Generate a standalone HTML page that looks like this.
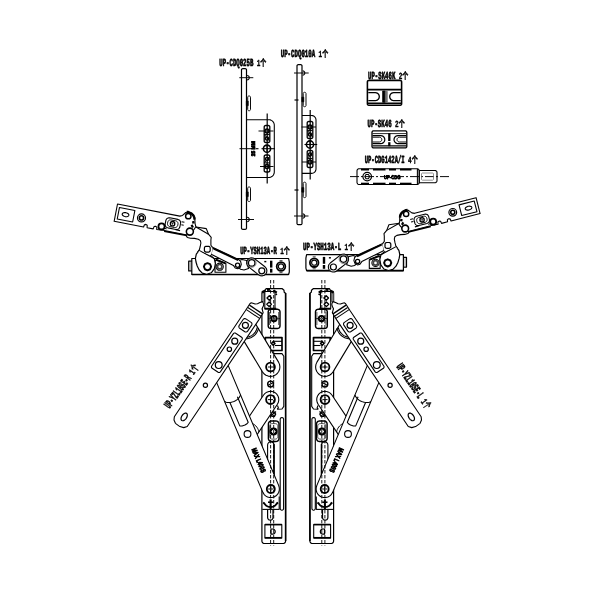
<!DOCTYPE html>
<html><head><meta charset="utf-8"><title>UP hardware set</title>
<style>html,body{margin:0;padding:0;background:#fff}svg{display:block}text{fill:#000;text-rendering:geometricPrecision}</style></head>
<body><svg width="600" height="600" viewBox="0 0 600 600" stroke-linejoin="round" style="will-change:transform">
<rect width="600" height="600" fill="#fff"/>
<path d="M245.30 68.70 L245.61 68.74 L245.90 68.86 L246.15 69.05 L246.34 69.30 L246.46 69.59 L246.50 69.90 L246.50 228.10 L246.46 228.41 L246.34 228.70 L246.15 228.95 L245.90 229.14 L245.61 229.26 L245.30 229.30 L242.70 229.30 L242.39 229.26 L242.10 229.14 L241.85 228.95 L241.66 228.70 L241.54 228.41 L241.50 228.10 L241.50 69.90 L241.54 69.59 L241.66 69.30 L241.85 69.05 L242.10 68.86 L242.39 68.74 L242.70 68.70 Z" fill="#fff" stroke="#000" stroke-width="1.20"/>
<path d="M246.50 119.70 L268.80 119.70 L269.87 119.81 L270.90 120.12 L271.86 120.63 L272.69 121.31 L273.37 122.14 L273.88 123.10 L274.19 124.13 L274.30 125.20 L274.30 172.00 L274.19 173.07 L273.88 174.10 L273.37 175.06 L272.69 175.89 L271.86 176.57 L270.90 177.08 L269.87 177.39 L268.80 177.50 L246.50 177.50" fill="none" stroke="#000" stroke-width="1.08"/>
<path d="M239.30 77.70 L253.30 77.70" fill="none" stroke="#000" stroke-width="0.96"/>
<path d="M247.10 75.50 L247.94 75.67 L248.66 76.14 L249.13 76.86 L249.30 77.70 L249.13 78.54 L248.66 79.26 L247.94 79.73 L247.10 79.90" fill="none" stroke="#000" stroke-width="1.08"/>
<path d="M238.00 219.50 L254.00 219.50" fill="none" stroke="#000" stroke-width="0.96"/>
<path d="M247.10 217.30 L247.94 217.47 L248.66 217.94 L249.13 218.66 L249.30 219.50 L249.13 220.34 L248.66 221.06 L247.94 221.53 L247.10 221.70" fill="none" stroke="#000" stroke-width="1.08"/>
<path d="M249.30 96.00 L249.61 96.04 L249.90 96.16 L250.15 96.35 L250.34 96.60 L250.46 96.89 L250.50 97.20 L250.50 109.50 L250.46 109.81 L250.34 110.10 L250.15 110.35 L249.90 110.54 L249.61 110.66 L249.30 110.70 L248.90 110.70 L248.59 110.66 L248.30 110.54 L248.05 110.35 L247.86 110.10 L247.74 109.81 L247.70 109.50 L247.70 97.20 L247.74 96.89 L247.86 96.60 L248.05 96.35 L248.30 96.16 L248.59 96.04 L248.90 96.00 Z" fill="none" stroke="#000" stroke-width="0.96"/>
<path d="M246.30 101.05 L248.30 101.05 L248.30 105.65 L246.30 105.65 Z" fill="#000" stroke="#000" stroke-width="0.60"/>
<path d="M249.30 187.00 L249.61 187.04 L249.90 187.16 L250.15 187.35 L250.34 187.60 L250.46 187.89 L250.50 188.20 L250.50 200.30 L250.46 200.61 L250.34 200.90 L250.15 201.15 L249.90 201.34 L249.61 201.46 L249.30 201.50 L248.90 201.50 L248.59 201.46 L248.30 201.34 L248.05 201.15 L247.86 200.90 L247.74 200.61 L247.70 200.30 L247.70 188.20 L247.74 187.89 L247.86 187.60 L248.05 187.35 L248.30 187.16 L248.59 187.04 L248.90 187.00 Z" fill="none" stroke="#000" stroke-width="0.96"/>
<path d="M246.30 191.95 L248.30 191.95 L248.30 196.55 L246.30 196.55 Z" fill="#000" stroke="#000" stroke-width="0.60"/>
<path d="M267.20 113.50 L267.20 183.50" fill="none" stroke="#000" stroke-width="1.20"/>
<circle cx="267.00" cy="148.70" r="3.60" fill="none" stroke="#000" stroke-width="1.56"/>
<path d="M261.50 148.70 L275.00 148.70" fill="none" stroke="#000" stroke-width="1.08"/>
<path d="M267.00 145.70 L267.00 151.70" fill="none" stroke="#000" stroke-width="1.08"/>
<path d="M268.30 125.50 L268.69 125.55 L269.05 125.70 L269.36 125.94 L269.60 126.25 L269.75 126.61 L269.80 127.00 L269.80 141.00 L269.75 141.39 L269.60 141.75 L269.36 142.06 L269.05 142.30 L268.69 142.45 L268.30 142.50 L265.70 142.50 L265.31 142.45 L264.95 142.30 L264.64 142.06 L264.40 141.75 L264.25 141.39 L264.20 141.00 L264.20 127.00 L264.25 126.61 L264.40 126.25 L264.64 125.94 L264.95 125.70 L265.31 125.55 L265.70 125.50 Z" fill="none" stroke="#000" stroke-width="1.32"/>
<circle cx="267.00" cy="131.00" r="2.00" fill="none" stroke="#000" stroke-width="1.44"/>
<circle cx="267.00" cy="138.50" r="1.60" fill="none" stroke="#000" stroke-width="1.32"/>
<path d="M264.50 134.60 L269.50 134.60" fill="none" stroke="#000" stroke-width="1.08"/>
<path d="M264.50 134.60 L269.50 141.00" fill="none" stroke="#000" stroke-width="0.96"/>
<path d="M268.30 155.00 L268.69 155.05 L269.05 155.20 L269.36 155.44 L269.60 155.75 L269.75 156.11 L269.80 156.50 L269.80 170.50 L269.75 170.89 L269.60 171.25 L269.36 171.56 L269.05 171.80 L268.69 171.95 L268.30 172.00 L265.70 172.00 L265.31 171.95 L264.95 171.80 L264.64 171.56 L264.40 171.25 L264.25 170.89 L264.20 170.50 L264.20 156.50 L264.25 156.11 L264.40 155.75 L264.64 155.44 L264.95 155.20 L265.31 155.05 L265.70 155.00 Z" fill="none" stroke="#000" stroke-width="1.32"/>
<circle cx="267.00" cy="166.50" r="2.00" fill="none" stroke="#000" stroke-width="1.44"/>
<circle cx="267.00" cy="159.00" r="1.60" fill="none" stroke="#000" stroke-width="1.32"/>
<path d="M264.50 162.90 L269.50 162.90" fill="none" stroke="#000" stroke-width="1.08"/>
<path d="M264.50 162.90 L269.50 156.50" fill="none" stroke="#000" stroke-width="0.96"/>
<path d="M258.50 131.00 L273.50 131.00" fill="none" stroke="#000" stroke-width="0.96"/>
<path d="M260.00 166.50 L273.50 166.50" fill="none" stroke="#000" stroke-width="0.96"/>
<path d="M239.50 148.70 L251.00 148.70" fill="none" stroke="#000" stroke-width="0.96"/>
<path d="M255.50 148.70 L258.50 148.70" fill="none" stroke="#000" stroke-width="1.08"/>
<text x="0" y="0" font-size="5.2px" font-family="Liberation Sans, sans-serif" font-weight="bold" stroke="#000" stroke-width="0.85" textLength="15" lengthAdjust="spacingAndGlyphs" transform="translate(254.7 156.2) rotate(-90)">25 MM</text>
<path d="M300.80 64.70 L301.11 64.74 L301.40 64.86 L301.65 65.05 L301.84 65.30 L301.96 65.59 L302.00 65.90 L302.00 223.40 L301.96 223.71 L301.84 224.00 L301.65 224.25 L301.40 224.44 L301.11 224.56 L300.80 224.60 L298.20 224.60 L297.89 224.56 L297.60 224.44 L297.35 224.25 L297.16 224.00 L297.04 223.71 L297.00 223.40 L297.00 65.90 L297.04 65.59 L297.16 65.30 L297.35 65.05 L297.60 64.86 L297.89 64.74 L298.20 64.70 Z" fill="#fff" stroke="#000" stroke-width="1.20"/>
<path d="M302.00 115.50 L311.50 115.50 L312.38 115.59 L313.22 115.84 L314.00 116.26 L314.68 116.82 L315.24 117.50 L315.66 118.28 L315.91 119.12 L316.00 120.00 L316.00 168.90 L315.91 169.78 L315.66 170.62 L315.24 171.40 L314.68 172.08 L314.00 172.64 L313.22 173.06 L312.38 173.31 L311.50 173.40 L302.00 173.40" fill="none" stroke="#000" stroke-width="1.08"/>
<path d="M294.00 73.00 L308.70 73.00" fill="none" stroke="#000" stroke-width="0.96"/>
<path d="M302.60 70.80 L303.44 70.97 L304.16 71.44 L304.63 72.16 L304.80 73.00 L304.63 73.84 L304.16 74.56 L303.44 75.03 L302.60 75.20" fill="none" stroke="#000" stroke-width="1.08"/>
<path d="M294.00 216.00 L308.50 216.00" fill="none" stroke="#000" stroke-width="0.96"/>
<path d="M302.60 213.80 L303.44 213.97 L304.16 214.44 L304.63 215.16 L304.80 216.00 L304.63 216.84 L304.16 217.56 L303.44 218.03 L302.60 218.20" fill="none" stroke="#000" stroke-width="1.08"/>
<path d="M304.80 92.30 L305.11 92.34 L305.40 92.46 L305.65 92.65 L305.84 92.90 L305.96 93.19 L306.00 93.50 L306.00 105.50 L305.96 105.81 L305.84 106.10 L305.65 106.35 L305.40 106.54 L305.11 106.66 L304.80 106.70 L304.40 106.70 L304.09 106.66 L303.80 106.54 L303.55 106.35 L303.36 106.10 L303.24 105.81 L303.20 105.50 L303.20 93.50 L303.24 93.19 L303.36 92.90 L303.55 92.65 L303.80 92.46 L304.09 92.34 L304.40 92.30 Z" fill="none" stroke="#000" stroke-width="0.96"/>
<path d="M301.80 97.20 L303.80 97.20 L303.80 101.80 L301.80 101.80 Z" fill="#000" stroke="#000" stroke-width="0.60"/>
<path d="M304.80 182.20 L305.11 182.24 L305.40 182.36 L305.65 182.55 L305.84 182.80 L305.96 183.09 L306.00 183.40 L306.00 196.40 L305.96 196.71 L305.84 197.00 L305.65 197.25 L305.40 197.44 L305.11 197.56 L304.80 197.60 L304.40 197.60 L304.09 197.56 L303.80 197.44 L303.55 197.25 L303.36 197.00 L303.24 196.71 L303.20 196.40 L303.20 183.40 L303.24 183.09 L303.36 182.80 L303.55 182.55 L303.80 182.36 L304.09 182.24 L304.40 182.20 Z" fill="none" stroke="#000" stroke-width="0.96"/>
<path d="M301.80 187.60 L303.80 187.60 L303.80 192.20 L301.80 192.20 Z" fill="#000" stroke="#000" stroke-width="0.60"/>
<path d="M294.50 100.00 L298.50 100.00" fill="none" stroke="#000" stroke-width="1.20"/>
<path d="M294.50 190.00 L298.50 190.00" fill="none" stroke="#000" stroke-width="1.20"/>
<path d="M310.20 110.00 L310.20 179.50" fill="none" stroke="#000" stroke-width="1.20"/>
<circle cx="310.00" cy="144.50" r="3.60" fill="none" stroke="#000" stroke-width="1.56"/>
<path d="M304.50 144.50 L317.20 144.50" fill="none" stroke="#000" stroke-width="1.08"/>
<path d="M310.00 141.50 L310.00 147.50" fill="none" stroke="#000" stroke-width="1.08"/>
<path d="M311.30 121.50 L311.69 121.55 L312.05 121.70 L312.36 121.94 L312.60 122.25 L312.75 122.61 L312.80 123.00 L312.80 137.00 L312.75 137.39 L312.60 137.75 L312.36 138.06 L312.05 138.30 L311.69 138.45 L311.30 138.50 L308.70 138.50 L308.31 138.45 L307.95 138.30 L307.64 138.06 L307.40 137.75 L307.25 137.39 L307.20 137.00 L307.20 123.00 L307.25 122.61 L307.40 122.25 L307.64 121.94 L307.95 121.70 L308.31 121.55 L308.70 121.50 Z" fill="none" stroke="#000" stroke-width="1.32"/>
<circle cx="310.00" cy="127.00" r="2.00" fill="none" stroke="#000" stroke-width="1.44"/>
<circle cx="310.00" cy="134.50" r="1.60" fill="none" stroke="#000" stroke-width="1.32"/>
<path d="M307.50 130.60 L312.50 130.60" fill="none" stroke="#000" stroke-width="1.08"/>
<path d="M307.50 130.60 L312.50 137.00" fill="none" stroke="#000" stroke-width="0.96"/>
<path d="M311.30 150.50 L311.69 150.55 L312.05 150.70 L312.36 150.94 L312.60 151.25 L312.75 151.61 L312.80 152.00 L312.80 166.00 L312.75 166.39 L312.60 166.75 L312.36 167.06 L312.05 167.30 L311.69 167.45 L311.30 167.50 L308.70 167.50 L308.31 167.45 L307.95 167.30 L307.64 167.06 L307.40 166.75 L307.25 166.39 L307.20 166.00 L307.20 152.00 L307.25 151.61 L307.40 151.25 L307.64 150.94 L307.95 150.70 L308.31 150.55 L308.70 150.50 Z" fill="none" stroke="#000" stroke-width="1.32"/>
<circle cx="310.00" cy="162.00" r="2.00" fill="none" stroke="#000" stroke-width="1.44"/>
<circle cx="310.00" cy="154.50" r="1.60" fill="none" stroke="#000" stroke-width="1.32"/>
<path d="M307.50 158.40 L312.50 158.40" fill="none" stroke="#000" stroke-width="1.08"/>
<path d="M307.50 158.40 L312.50 152.00" fill="none" stroke="#000" stroke-width="0.96"/>
<path d="M301.50 127.00 L316.00 127.00" fill="none" stroke="#000" stroke-width="0.96"/>
<path d="M302.00 162.00 L316.00 162.00" fill="none" stroke="#000" stroke-width="0.96"/>
<text y="66.20" font-size="10.80px" font-family="Liberation Mono, Noto Sans CJK SC, monospace" font-weight="bold" stroke="#000" stroke-width="0.72"><tspan x="219.30" textLength="34.00" lengthAdjust="spacingAndGlyphs">UP-CDQ025B</tspan> <tspan x="256.70" dy="-0.1" stroke-width="0.4" font-size="9.30px" textLength="9.60" lengthAdjust="spacingAndGlyphs">1个</tspan></text>
<text y="56.60" font-size="10.80px" font-family="Liberation Mono, Noto Sans CJK SC, monospace" font-weight="bold" stroke="#000" stroke-width="0.72"><tspan x="280.70" textLength="34.50" lengthAdjust="spacingAndGlyphs">UP-CDQ010A</tspan> <tspan x="318.60" dy="-0.1" stroke-width="0.4" font-size="9.30px" textLength="9.60" lengthAdjust="spacingAndGlyphs">1个</tspan></text>
<text y="78.80" font-size="10.80px" font-family="Liberation Mono, Noto Sans CJK SC, monospace" font-weight="bold" stroke="#000" stroke-width="0.72"><tspan x="368.00" textLength="27.30" lengthAdjust="spacingAndGlyphs">UP-SK46K</tspan> <tspan x="398.70" dy="-0.1" stroke-width="0.4" font-size="9.30px" textLength="9.60" lengthAdjust="spacingAndGlyphs">2个</tspan></text>
<text y="127.20" font-size="10.80px" font-family="Liberation Mono, Noto Sans CJK SC, monospace" font-weight="bold" stroke="#000" stroke-width="0.72"><tspan x="367.50" textLength="24.20" lengthAdjust="spacingAndGlyphs">UP-SK46</tspan> <tspan x="395.10" dy="-0.1" stroke-width="0.4" font-size="9.30px" textLength="9.60" lengthAdjust="spacingAndGlyphs">2个</tspan></text>
<text y="163.20" font-size="10.80px" font-family="Liberation Mono, Noto Sans CJK SC, monospace" font-weight="bold" stroke="#000" stroke-width="0.72"><tspan x="364.70" textLength="40.00" lengthAdjust="spacingAndGlyphs">UP-CDG142A/I</tspan> <tspan x="408.10" dy="-0.1" stroke-width="0.4" font-size="9.30px" textLength="9.60" lengthAdjust="spacingAndGlyphs">4个</tspan></text>
<text y="253.60" font-size="10.80px" font-family="Liberation Mono, Noto Sans CJK SC, monospace" font-weight="bold" stroke="#000" stroke-width="0.72"><tspan x="240.20" textLength="36.60" lengthAdjust="spacingAndGlyphs">UP-YSH13A-R</tspan> <tspan x="280.20" dy="-0.1" stroke-width="0.4" font-size="9.30px" textLength="9.60" lengthAdjust="spacingAndGlyphs">1个</tspan></text>
<text y="250.40" font-size="10.80px" font-family="Liberation Mono, Noto Sans CJK SC, monospace" font-weight="bold" stroke="#000" stroke-width="0.72"><tspan x="303.00" textLength="38.20" lengthAdjust="spacingAndGlyphs">UP-YSH13A-L</tspan> <tspan x="344.60" dy="-0.1" stroke-width="0.4" font-size="9.30px" textLength="9.60" lengthAdjust="spacingAndGlyphs">1个</tspan></text>
<path d="M400.10 80.40 L400.49 80.45 L400.85 80.60 L401.16 80.84 L401.40 81.15 L401.55 81.51 L401.60 81.90 L401.60 103.70 L401.55 104.09 L401.40 104.45 L401.16 104.76 L400.85 105.00 L400.49 105.15 L400.10 105.20 L368.90 105.20 L368.51 105.15 L368.15 105.00 L367.84 104.76 L367.60 104.45 L367.45 104.09 L367.40 103.70 L367.40 81.90 L367.45 81.51 L367.60 81.15 L367.84 80.84 L368.15 80.60 L368.51 80.45 L368.90 80.40 Z" fill="none" stroke="#000" stroke-width="1.56"/>
<path d="M367.40 89.60 L401.60 89.60" fill="none" stroke="#000" stroke-width="1.80"/>
<path d="M368.00 103.20 L401.00 103.20" fill="none" stroke="#000" stroke-width="1.44"/>
<path d="M368.30 92.60 L375.30 92.60 L375.30 92.60 L376.54 92.80 L377.65 93.36 L378.54 94.25 L379.10 95.36 L379.30 96.60 L379.10 97.84 L378.54 98.95 L377.65 99.84 L376.54 100.40 L375.30 100.60 L368.30 100.60" fill="none" stroke="#000" stroke-width="1.32"/>
<path d="M400.70 92.60 L393.70 92.60 L393.70 92.60 L392.46 92.80 L391.35 93.36 L390.46 94.25 L389.90 95.36 L389.70 96.60 L389.90 97.84 L390.46 98.95 L391.35 99.84 L392.46 100.40 L393.70 100.60 L400.70 100.60" fill="none" stroke="#000" stroke-width="1.32"/>
<path d="M382.60 91.00 L385.20 91.00 L385.20 102.30 L382.60 102.30 Z" fill="#000" stroke="#000" stroke-width="0.72"/>
<path d="M385.20 91.30 L387.30 91.30 L387.30 102.00 L385.20 102.00 Z" fill="#777" stroke="#555" stroke-width="0.60"/>
<path d="M405.30 130.90 L405.69 130.95 L406.05 131.10 L406.36 131.34 L406.60 131.65 L406.75 132.01 L406.80 132.40 L406.80 146.40 L406.75 146.79 L406.60 147.15 L406.36 147.46 L406.05 147.70 L405.69 147.85 L405.30 147.90 L373.50 147.90 L373.11 147.85 L372.75 147.70 L372.44 147.46 L372.20 147.15 L372.05 146.79 L372.00 146.40 L372.00 132.40 L372.05 132.01 L372.20 131.65 L372.44 131.34 L372.75 131.10 L373.11 130.95 L373.50 130.90 Z" fill="none" stroke="#000" stroke-width="1.32"/>
<path d="M372.50 133.60 L406.30 133.60" fill="none" stroke="#000" stroke-width="0.84"/>
<path d="M372.50 145.90 L406.30 145.90" fill="none" stroke="#000" stroke-width="1.08"/>
<path d="M372.50 135.60 L380.80 135.60 L380.80 135.60 L382.04 135.80 L383.15 136.36 L384.04 137.25 L384.60 138.36 L384.80 139.60 L384.60 140.84 L384.04 141.95 L383.15 142.84 L382.04 143.40 L380.80 143.60 L372.50 143.60" fill="none" stroke="#000" stroke-width="1.20"/>
<path d="M372.50 137.20 L379.40 137.20 L379.40 137.20 L380.14 137.32 L380.81 137.66 L381.34 138.19 L381.68 138.86 L381.80 139.60 L381.68 140.34 L381.34 141.01 L380.81 141.54 L380.14 141.88 L379.40 142.00 L372.50 142.00" fill="none" stroke="#000" stroke-width="0.96"/>
<path d="M406.30 135.60 L398.00 135.60 L398.00 135.60 L396.76 135.80 L395.65 136.36 L394.76 137.25 L394.20 138.36 L394.00 139.60 L394.20 140.84 L394.76 141.95 L395.65 142.84 L396.76 143.40 L398.00 143.60 L406.30 143.60" fill="none" stroke="#000" stroke-width="1.20"/>
<path d="M406.30 137.20 L399.40 137.20 L399.40 137.20 L398.66 137.32 L397.99 137.66 L397.46 138.19 L397.12 138.86 L397.00 139.60 L397.12 140.34 L397.46 141.01 L397.99 141.54 L398.66 141.88 L399.40 142.00 L406.30 142.00" fill="none" stroke="#000" stroke-width="0.96"/>
<path d="M389.30 133.20 L389.30 141.00" fill="none" stroke="#000" stroke-width="2.28"/>
<path d="M389.30 142.20 L389.30 146.20" fill="none" stroke="#000" stroke-width="2.28"/>
<path d="M350.00 176.60 L449.50 176.60" fill="none" stroke="#000" stroke-width="0.96" stroke-dasharray="9 2 2 2"/>
<path d="M417.00 168.70 L417.57 168.77 L418.10 168.99 L418.56 169.34 L418.91 169.80 L419.13 170.33 L419.20 170.90 L419.20 182.30 L419.13 182.87 L418.91 183.40 L418.56 183.86 L418.10 184.21 L417.57 184.43 L417.00 184.50 L359.20 184.50 L358.63 184.43 L358.10 184.21 L357.64 183.86 L357.29 183.40 L357.07 182.87 L357.00 182.30 L357.00 170.90 L357.07 170.33 L357.29 169.80 L357.64 169.34 L358.10 168.99 L358.63 168.77 L359.20 168.70 Z" fill="none" stroke="#000" stroke-width="1.08"/>
<path d="M361.00 169.60 L369.00 169.60" fill="none" stroke="#000" stroke-width="1.80"/>
<path d="M361.00 183.60 L369.00 183.60" fill="none" stroke="#000" stroke-width="1.80"/>
<path d="M373.00 169.60 L385.50 169.60" fill="none" stroke="#000" stroke-width="1.80"/>
<path d="M373.00 183.60 L385.50 183.60" fill="none" stroke="#000" stroke-width="1.80"/>
<path d="M389.00 169.60 L396.00 169.60" fill="none" stroke="#000" stroke-width="1.80"/>
<path d="M389.00 183.60 L396.00 183.60" fill="none" stroke="#000" stroke-width="1.80"/>
<path d="M400.00 169.60 L411.50 169.60" fill="none" stroke="#000" stroke-width="1.80"/>
<path d="M400.00 183.60 L411.50 183.60" fill="none" stroke="#000" stroke-width="1.80"/>
<path d="M419.20 170.50 L435.00 170.50 L435.62 170.60 L436.18 170.88 L436.62 171.32 L436.90 171.88 L437.00 172.50 L437.00 180.70 L436.90 181.32 L436.62 181.88 L436.18 182.32 L435.62 182.60 L435.00 182.70 L419.20 182.70" fill="none" stroke="#000" stroke-width="1.08"/>
<path d="M432.50 173.00 L432.76 173.03 L433.00 173.13 L433.21 173.29 L433.37 173.50 L433.47 173.74 L433.50 174.00 L433.50 179.20 L433.47 179.46 L433.37 179.70 L433.21 179.91 L433.00 180.07 L432.76 180.17 L432.50 180.20 L422.50 180.20 L422.24 180.17 L422.00 180.07 L421.79 179.91 L421.63 179.70 L421.53 179.46 L421.50 179.20 L421.50 174.00 L421.53 173.74 L421.63 173.50 L421.79 173.29 L422.00 173.13 L422.24 173.03 L422.50 173.00 Z" fill="none" stroke="#666" stroke-width="0.72"/>
<path d="M417.40 169.00 L417.40 184.20" fill="none" stroke="#000" stroke-width="1.08"/>
<path d="M419.30 170.00 L419.30 183.20" fill="none" stroke="#000" stroke-width="1.08"/>
<circle cx="367.20" cy="176.60" r="4.30" fill="none" stroke="#000" stroke-width="1.20"/>
<path d="M369.60 176.60 L368.40 178.68 L366.00 178.68 L364.80 176.60 L366.00 174.52 L368.40 174.52 L369.60 176.60 Z" fill="none" stroke="#000" stroke-width="1.08"/>
<text x="384" y="179.0" font-size="5.4px" font-family="Liberation Sans, sans-serif" font-weight="bold" stroke="#000" stroke-width="0.8" textLength="16.5" lengthAdjust="spacingAndGlyphs">UP-CDG</text>
<path d="M191.80 258.50 L288.60 258.50 L289.30 262.00 L289.30 272.00 L288.60 274.50 L191.80 274.50 Z" fill="#fff" stroke="#000" stroke-width="1.20"/>
<path d="M191.80 274.50 L288.60 274.50" fill="none" stroke="#000" stroke-width="1.68"/>
<path d="M191.80 261.20 L188.70 261.20 L188.70 270.90 L191.80 270.90" fill="none" stroke="#000" stroke-width="1.20"/>
<path d="M190.20 262.00 L190.20 270.00" fill="none" stroke="#666" stroke-width="0.72"/>
<path d="M271.20 260.70 L271.20 267.60" fill="none" stroke="#000" stroke-width="2.40"/>
<path d="M271.20 268.80 L271.20 272.60" fill="none" stroke="#000" stroke-width="2.40"/>
<path d="M264.30 261.60 L266.30 261.60" fill="none" stroke="#000" stroke-width="1.44"/>
<circle cx="281.00" cy="266.50" r="4.30" fill="none" stroke="#000" stroke-width="1.80"/>
<circle cx="281.00" cy="266.50" r="2.60" fill="none" stroke="#000" stroke-width="1.08"/>
<path d="M279.50 260.60 L282.50 260.60" fill="none" stroke="#444" stroke-width="0.96"/>
<path d="M279.50 272.60 L282.50 272.60" fill="none" stroke="#444" stroke-width="0.96"/>
<path d="M215.00 272.20 L225.90 272.20 L225.90 263.60 L217.00 259.80 L215.00 261.00 Z" fill="#fff" stroke="#000" stroke-width="1.08"/>
<path d="M215.50 259.60 L225.50 263.40" fill="none" stroke="#000" stroke-width="1.80"/>
<circle cx="219.70" cy="266.70" r="3.60" fill="none" stroke="#000" stroke-width="1.08"/>
<circle cx="219.70" cy="266.70" r="2.20" fill="none" stroke="#444" stroke-width="1.68"/>
<path d="M239.40 260.30 L242.00 259.40 L246.80 260.60 L248.50 268.60 L244.00 270.00 L240.60 269.30 L238.60 267.50 Z" fill="#fff" stroke="#000" stroke-width="1.08"/>
<path d="M264.94 266.78 L266.24 268.29 L266.86 270.18 L266.71 272.17 L265.82 273.94 L264.31 275.24 L262.42 275.86 L260.43 275.71 L258.66 274.82 L248.56 266.92 L247.26 265.41 L246.64 263.52 L246.79 261.53 L247.68 259.76 L249.19 258.46 L251.08 257.84 L253.07 257.99 L254.84 258.88 Z" fill="#fff" stroke="#000" stroke-width="1.08"/>
<circle cx="251.70" cy="262.90" r="3.20" fill="none" stroke="#000" stroke-width="1.20"/>
<circle cx="251.70" cy="262.90" r="4.30" fill="none" stroke="#555" stroke-width="0.84"/>
<circle cx="261.80" cy="270.80" r="3.00" fill="none" stroke="#000" stroke-width="1.20"/>
<path d="M212.40 247.20 L238.50 259.40 L240.60 261.30 L241.30 264.40 L240.30 267.20 L237.80 268.70 L235.20 268.00 L233.40 265.40 L211.20 254.20 Z" fill="#fff" stroke="#000" stroke-width="1.08"/>
<path d="M213.60 248.60 L238.20 260.20" fill="none" stroke="#000" stroke-width="1.80"/>
<circle cx="237.60" cy="265.20" r="2.10" fill="none" stroke="#000" stroke-width="1.32"/>
<path d="M199.20 250.40 L196.30 254.20 L195.40 258.30 L196.00 262.00 L197.20 266.00 L199.20 270.00 L202.30 273.20 L206.70 274.30 L211.30 272.80 L214.40 268.60 L215.40 263.50 L214.30 258.60 L210.50 255.40 Z" fill="#fff" stroke="#000" stroke-width="1.20"/>
<path d="M211.10 266.70 L210.05 269.25 L207.50 270.30 L204.95 269.25 L203.90 266.70 L204.95 264.15 L207.50 263.10 L210.05 264.15 L211.10 266.70 Z" fill="none" stroke="#000" stroke-width="1.92"/>
<path d="M185.50 234.80 L187.30 237.40 L190.50 238.20 L194.50 238.40 L198.30 239.20 L200.40 240.60 L200.90 243.00 L200.20 246.50 L199.40 249.60 L197.50 252.30 L203.00 252.60 L210.00 255.50 L211.60 253.40 L212.60 247.60 L210.90 245.20 L210.90 240.00 L211.20 237.40 L208.50 234.20 L196.00 227.00 L193.00 226.00 L188.00 229.00 Z" fill="#fff" stroke="none" stroke-width="1.08"/>
<path d="M185.50 234.80 L187.30 237.40 L190.50 238.20 L194.50 238.40 L198.30 239.20 L200.40 240.60 L200.90 243.00 L200.20 246.50 L199.40 249.60 L197.50 252.30" fill="none" stroke="#000" stroke-width="1.08"/>
<path d="M212.60 247.60 L210.90 245.20 L210.90 240.00 L211.20 237.40 L208.50 234.20 L196.00 227.00" fill="none" stroke="#000" stroke-width="1.08"/>
<path d="M196.00 227.00 L206.30 228.60 L208.50 234.20" fill="none" stroke="#000" stroke-width="1.08"/>
<path d="M199.20 250.40 L214.30 258.60" fill="none" stroke="#000" stroke-width="1.08"/>
<path d="M208.40 246.30 L208.87 246.36 L209.30 246.54 L209.67 246.83 L209.96 247.20 L210.14 247.63 L210.20 248.10 L210.20 250.30 L210.14 250.77 L209.96 251.20 L209.67 251.57 L209.30 251.86 L208.87 252.04 L208.40 252.10 L206.20 252.10 L205.73 252.04 L205.30 251.86 L204.93 251.57 L204.64 251.20 L204.46 250.77 L204.40 250.30 L204.40 248.10 L204.46 247.63 L204.64 247.20 L204.93 246.83 L205.30 246.54 L205.73 246.36 L206.20 246.30 Z" fill="#fff" stroke="#000" stroke-width="1.20"/>
<path d="M117.50 204.00 L179.83 216.12 L182.52 215.42 L185.83 212.49 L188.28 211.95 L191.59 213.31 L193.71 215.45 L194.65 217.47 L194.96 221.09 L195.03 223.35 L195.82 226.66 L194.03 229.57 L186.86 235.00 L164.28 230.62 L163.53 230.27 L160.85 229.95 L156.74 229.56 L156.81 227.13 L155.55 226.27 L154.06 226.59 L153.21 228.87 L147.12 227.69 L147.19 225.26 L145.93 224.40 L144.44 224.72 L143.59 227.00 L114.14 221.28 Z" fill="#fff" stroke="#000" stroke-width="1.08"/>
<path d="M164.15 231.30 L186.76 235.49" fill="none" stroke="#000" stroke-width="1.56"/>
<path d="M119.48 207.44 L134.89 210.44 L132.64 222.02 L117.23 219.02 Z" fill="none" stroke="#000" stroke-width="1.08"/>
<path d="M128.86 215.27 L128.58 215.85 L128.00 216.30 L127.17 216.60 L126.19 216.69 L125.14 216.59 L124.13 216.29 L123.25 215.83 L122.60 215.25 L122.23 214.62 L122.18 213.98 L122.46 213.40 L123.04 212.95 L123.87 212.66 L124.85 212.56 L125.90 212.66 L126.91 212.96 L127.79 213.42 L128.44 214.00 L128.81 214.64 L128.86 215.27 Z" fill="none" stroke="#000" stroke-width="1.08"/>
<circle cx="141.48" cy="217.93" r="4.00" fill="none" stroke="#000" stroke-width="1.20"/>
<circle cx="141.48" cy="217.93" r="2.10" fill="none" stroke="#000" stroke-width="1.56"/>
<circle cx="161.53" cy="226.41" r="3.10" fill="#fff" stroke="#000" stroke-width="1.80"/>
<path d="M177.87 219.40 L178.71 219.68 L179.45 220.17 L180.04 220.84 L180.44 221.63 L180.61 222.50 L180.56 223.39 L179.91 226.73 L179.63 227.57 L179.14 228.31 L178.47 228.90 L177.68 229.29 L176.81 229.47 L175.92 229.41 L167.87 227.85 L167.03 227.57 L166.29 227.08 L165.70 226.41 L165.31 225.62 L165.13 224.75 L165.19 223.86 L165.83 220.53 L166.12 219.68 L166.61 218.94 L167.27 218.36 L168.07 217.96 L168.94 217.78 L169.82 217.84 Z" fill="none" stroke="#000" stroke-width="1.08"/>
<path d="M175.76 220.83 L176.45 221.06 L177.06 221.46 L177.55 222.01 L177.87 222.66 L178.02 223.38 L177.97 224.11 L177.75 225.29 L177.51 225.98 L177.11 226.59 L176.56 227.07 L175.91 227.40 L175.19 227.55 L174.46 227.50 L169.75 226.58 L169.06 226.35 L168.45 225.95 L167.96 225.40 L167.64 224.75 L167.49 224.03 L167.54 223.30 L167.77 222.12 L168.00 221.43 L168.40 220.82 L168.95 220.34 L169.60 220.01 L170.32 219.87 L171.05 219.91 Z" fill="none" stroke="#000" stroke-width="0.96"/>
<circle cx="172.56" cy="223.67" r="2.20" fill="none" stroke="#000" stroke-width="1.32"/>
<circle cx="172.56" cy="223.67" r="0.50" fill="#000" stroke="#000" stroke-width="0.84"/>
<path d="M181.59 221.76 L184.44 222.31" fill="none" stroke="#000" stroke-width="1.08"/>
<path d="M181.31 224.76 L183.67 225.22" fill="none" stroke="#000" stroke-width="1.08"/>
<path d="M175.65 229.77 L180.07 230.63" fill="none" stroke="#000" stroke-width="1.08"/>
<path d="M163.72 228.26 L166.66 228.84" fill="none" stroke="#000" stroke-width="0.96"/>
<circle cx="188.29" cy="216.13" r="2.70" fill="none" stroke="#000" stroke-width="1.44"/>
<path d="M186.73 212.06 L188.26 212.05 L191.55 213.50 L193.48 215.61 L194.31 217.61 L194.54 219.59" fill="none" stroke="#000" stroke-width="2.40"/>
<path d="M193.02 221.12 L193.58 223.47" fill="none" stroke="#000" stroke-width="2.28"/>
<path d="M191.47 224.90 L193.01 227.44" fill="none" stroke="#000" stroke-width="2.16"/>
<circle cx="189.86" cy="231.61" r="3.50" fill="#fff" stroke="#000" stroke-width="1.56"/>
<path d="M403.40 254.70 L306.60 254.70 L305.90 258.20 L305.90 268.20 L306.60 270.70 L403.40 270.70 Z" fill="#fff" stroke="#000" stroke-width="1.20"/>
<path d="M403.40 270.70 L306.60 270.70" fill="none" stroke="#000" stroke-width="1.68"/>
<path d="M403.40 257.40 L406.50 257.40 L406.50 267.10 L403.40 267.10" fill="none" stroke="#000" stroke-width="1.20"/>
<path d="M405.00 258.20 L405.00 266.20" fill="none" stroke="#666" stroke-width="0.72"/>
<path d="M324.00 256.90 L324.00 263.80" fill="none" stroke="#000" stroke-width="2.40"/>
<path d="M324.00 265.00 L324.00 268.80" fill="none" stroke="#000" stroke-width="2.40"/>
<path d="M330.90 257.80 L328.90 257.80" fill="none" stroke="#000" stroke-width="1.44"/>
<circle cx="314.20" cy="262.70" r="4.30" fill="none" stroke="#000" stroke-width="1.80"/>
<circle cx="314.20" cy="262.70" r="2.60" fill="none" stroke="#000" stroke-width="1.08"/>
<path d="M315.70 256.80 L312.70 256.80" fill="none" stroke="#444" stroke-width="0.96"/>
<path d="M315.70 268.80 L312.70 268.80" fill="none" stroke="#444" stroke-width="0.96"/>
<path d="M380.20 268.40 L369.30 268.40 L369.30 259.80 L378.20 256.00 L380.20 257.20 Z" fill="#fff" stroke="#000" stroke-width="1.08"/>
<path d="M379.70 255.80 L369.70 259.60" fill="none" stroke="#000" stroke-width="1.80"/>
<circle cx="375.50" cy="262.90" r="3.60" fill="none" stroke="#000" stroke-width="1.08"/>
<circle cx="375.50" cy="262.90" r="2.20" fill="none" stroke="#444" stroke-width="1.68"/>
<path d="M355.80 256.50 L353.20 255.60 L348.40 256.80 L346.70 264.80 L351.20 266.20 L354.60 265.50 L356.60 263.70 Z" fill="#fff" stroke="#000" stroke-width="1.08"/>
<path d="M330.26 262.98 L328.96 264.49 L328.34 266.38 L328.49 268.37 L329.38 270.14 L330.89 271.44 L332.78 272.06 L334.77 271.91 L336.54 271.02 L346.64 263.12 L347.94 261.61 L348.56 259.72 L348.41 257.73 L347.52 255.96 L346.01 254.66 L344.12 254.04 L342.13 254.19 L340.36 255.08 Z" fill="#fff" stroke="#000" stroke-width="1.08"/>
<circle cx="343.50" cy="259.10" r="3.20" fill="none" stroke="#000" stroke-width="1.20"/>
<circle cx="343.50" cy="259.10" r="4.30" fill="none" stroke="#555" stroke-width="0.84"/>
<circle cx="333.40" cy="267.00" r="3.00" fill="none" stroke="#000" stroke-width="1.20"/>
<path d="M382.80 243.40 L356.70 255.60 L354.60 257.50 L353.90 260.60 L354.90 263.40 L357.40 264.90 L360.00 264.20 L361.80 261.60 L384.00 250.40 Z" fill="#fff" stroke="#000" stroke-width="1.08"/>
<path d="M381.60 244.80 L357.00 256.40" fill="none" stroke="#000" stroke-width="1.80"/>
<circle cx="357.60" cy="261.40" r="2.10" fill="none" stroke="#000" stroke-width="1.32"/>
<path d="M396.00 246.60 L398.90 250.40 L399.80 254.50 L399.20 258.20 L398.00 262.20 L396.00 266.20 L392.90 269.40 L388.50 270.50 L383.90 269.00 L380.80 264.80 L379.80 259.70 L380.90 254.80 L384.70 251.60 Z" fill="#fff" stroke="#000" stroke-width="1.20"/>
<path d="M384.10 262.90 L385.15 265.45 L387.70 266.50 L390.25 265.45 L391.30 262.90 L390.25 260.35 L387.70 259.30 L385.15 260.35 L384.10 262.90 Z" fill="none" stroke="#000" stroke-width="1.92"/>
<path d="M409.70 231.00 L407.90 233.60 L404.70 234.40 L400.70 234.60 L396.90 235.40 L394.80 236.80 L394.30 239.20 L395.00 242.70 L395.80 245.80 L397.70 248.50 L392.20 248.80 L385.20 251.70 L383.60 249.60 L382.60 243.80 L384.30 241.40 L384.30 236.20 L384.00 233.60 L386.70 230.40 L399.20 223.20 L402.20 222.20 L407.20 225.20 Z" fill="#fff" stroke="none" stroke-width="1.08"/>
<path d="M409.70 231.00 L407.90 233.60 L404.70 234.40 L400.70 234.60 L396.90 235.40 L394.80 236.80 L394.30 239.20 L395.00 242.70 L395.80 245.80 L397.70 248.50" fill="none" stroke="#000" stroke-width="1.08"/>
<path d="M382.60 243.80 L384.30 241.40 L384.30 236.20 L384.00 233.60 L386.70 230.40 L399.20 223.20" fill="none" stroke="#000" stroke-width="1.08"/>
<path d="M399.20 223.20 L388.90 224.80 L386.70 230.40" fill="none" stroke="#000" stroke-width="1.08"/>
<path d="M396.00 246.60 L380.90 254.80" fill="none" stroke="#000" stroke-width="1.08"/>
<path d="M386.80 242.50 L386.33 242.56 L385.90 242.74 L385.53 243.03 L385.24 243.40 L385.06 243.83 L385.00 244.30 L385.00 246.50 L385.06 246.97 L385.24 247.40 L385.53 247.77 L385.90 248.06 L386.33 248.24 L386.80 248.30 L389.00 248.30 L389.47 248.24 L389.90 248.06 L390.27 247.77 L390.56 247.40 L390.74 246.97 L390.80 246.50 L390.80 244.30 L390.74 243.83 L390.56 243.40 L390.27 243.03 L389.90 242.74 L389.47 242.56 L389.00 242.50 Z" fill="#fff" stroke="#000" stroke-width="1.20"/>
<path d="M476.07 197.67 L414.54 213.35 L411.84 212.89 L408.42 210.40 L405.96 210.07 L402.73 211.57 L400.70 213.72 L399.85 215.66 L399.69 219.06 L399.71 221.17 L399.06 224.31 L400.96 226.89 L408.32 231.45 L430.60 225.77 L431.33 225.39 L433.99 224.90 L438.06 224.25 L437.90 221.99 L439.11 221.10 L440.61 221.30 L441.55 223.36 L447.56 221.83 L447.39 219.57 L448.61 218.68 L450.11 218.88 L451.04 220.94 L480.11 213.53 Z" fill="#fff" stroke="#000" stroke-width="1.08"/>
<path d="M430.76 226.40 L408.43 231.90" fill="none" stroke="#000" stroke-width="1.56"/>
<path d="M474.24 201.02 L459.03 204.89 L461.74 215.53 L476.95 211.65 Z" fill="none" stroke="#000" stroke-width="1.08"/>
<path d="M465.23 208.98 L465.53 209.49 L466.13 209.87 L466.96 210.09 L467.94 210.11 L468.98 209.94 L469.98 209.59 L470.83 209.10 L471.46 208.52 L471.80 207.89 L471.82 207.30 L471.51 206.78 L470.92 206.40 L470.09 206.18 L469.10 206.16 L468.06 206.33 L467.07 206.68 L466.21 207.17 L465.59 207.76 L465.25 208.38 L465.23 208.98 Z" fill="none" stroke="#000" stroke-width="1.08"/>
<circle cx="452.77" cy="212.34" r="3.86" fill="none" stroke="#000" stroke-width="1.20"/>
<circle cx="452.77" cy="212.34" r="2.03" fill="none" stroke="#000" stroke-width="1.56"/>
<circle cx="433.17" cy="221.66" r="2.99" fill="#fff" stroke="#000" stroke-width="1.80"/>
<path d="M416.63 216.28 L415.80 216.60 L415.08 217.11 L414.52 217.77 L414.16 218.54 L414.02 219.36 L414.11 220.18 L414.89 223.25 L415.21 224.01 L415.73 224.67 L416.41 225.17 L417.22 225.48 L418.09 225.58 L418.97 225.47 L426.91 223.44 L427.74 223.12 L428.46 222.61 L429.02 221.95 L429.38 221.19 L429.52 220.36 L429.43 219.54 L428.65 216.48 L428.33 215.71 L427.82 215.06 L427.13 214.56 L426.32 214.24 L425.45 214.14 L424.57 214.25 Z" fill="none" stroke="#000" stroke-width="1.08"/>
<path d="M418.78 217.46 L418.10 217.72 L417.51 218.14 L417.05 218.68 L416.76 219.32 L416.64 219.99 L416.71 220.67 L416.99 221.75 L417.25 222.38 L417.67 222.92 L418.24 223.33 L418.90 223.59 L419.62 223.68 L420.35 223.58 L425.00 222.40 L425.68 222.13 L426.27 221.71 L426.73 221.17 L427.02 220.54 L427.14 219.86 L427.07 219.18 L426.79 218.10 L426.53 217.47 L426.11 216.93 L425.54 216.52 L424.88 216.26 L424.16 216.18 L423.43 216.27 Z" fill="none" stroke="#000" stroke-width="0.96"/>
<circle cx="422.08" cy="219.88" r="2.12" fill="none" stroke="#000" stroke-width="1.32"/>
<circle cx="422.08" cy="219.88" r="0.48" fill="#000" stroke="#000" stroke-width="0.84"/>
<path d="M413.02 218.73 L410.21 219.45" fill="none" stroke="#000" stroke-width="1.08"/>
<path d="M413.42 221.51 L411.09 222.10" fill="none" stroke="#000" stroke-width="1.08"/>
<path d="M419.25 225.78 L414.89 226.89" fill="none" stroke="#000" stroke-width="1.08"/>
<path d="M431.07 223.54 L428.16 224.28" fill="none" stroke="#000" stroke-width="0.96"/>
<circle cx="406.13" cy="213.96" r="2.60" fill="none" stroke="#000" stroke-width="1.44"/>
<path d="M407.51 210.06 L405.99 210.16 L402.78 211.75 L400.94 213.85 L400.19 215.76 L400.04 217.62" fill="none" stroke="#000" stroke-width="2.40"/>
<path d="M401.62 218.95 L401.16 221.18" fill="none" stroke="#000" stroke-width="2.28"/>
<path d="M403.32 222.36 L401.88 224.83" fill="none" stroke="#000" stroke-width="2.16"/>
<circle cx="405.19" cy="228.50" r="3.38" fill="#fff" stroke="#000" stroke-width="1.56"/>
<path d="M266.00 288.70 L282.30 288.70 L284.00 290.20 L284.20 292.20 L285.60 293.20 L285.60 541.00 L285.60 541.00 L285.48 541.77 L285.12 542.47 L284.57 543.02 L283.87 543.38 L283.10 543.50 L264.40 543.50 L263.63 543.38 L262.93 543.02 L262.38 542.47 L262.02 541.77 L261.90 541.00 L261.90 292.70 L265.00 290.70 Z" fill="#fff" stroke="#000" stroke-width="1.20"/>
<path d="M285.60 293.00 L285.60 541.00" fill="none" stroke="#000" stroke-width="1.56"/>
<path d="M262.10 292.80 L264.60 292.80 L264.60 301.60 L262.10 301.60 Z" fill="#888" stroke="#666" stroke-width="0.60"/>
<path d="M262.00 292.40 L265.50 290.60" fill="none" stroke="#000" stroke-width="2.40"/>
<path d="M264.80 291.50 L275.00 291.50 L275.00 308.60 L264.80 308.60 Z" fill="none" stroke="#000" stroke-width="1.08"/>
<path d="M264.60 308.70 L276.30 308.70" fill="none" stroke="#000" stroke-width="1.92"/>
<path d="M267.00 298.00 L269.30 295.70 L271.60 298.00 L269.30 300.30 Z" fill="none" stroke="#000" stroke-width="1.32"/>
<path d="M266.80 304.30 L269.10 302.00 L271.40 304.30 L269.10 306.60 Z" fill="none" stroke="#000" stroke-width="1.32"/>
<path d="M267.00 290.00 L270.00 289.60" fill="none" stroke="#000" stroke-width="2.16"/>
<path d="M273.50 290.50 L276.80 292.60" fill="none" stroke="#000" stroke-width="2.16"/>
<path d="M275.50 294.80 L277.00 294.00" fill="none" stroke="#000" stroke-width="1.44"/>
<path d="M277.40 309.30 L278.07 309.39 L278.70 309.65 L279.24 310.06 L279.65 310.60 L279.91 311.23 L280.00 311.90 L280.00 325.90 L279.91 326.57 L279.65 327.20 L279.24 327.74 L278.70 328.15 L278.07 328.41 L277.40 328.50 L270.80 328.50 L270.13 328.41 L269.50 328.15 L268.96 327.74 L268.55 327.20 L268.29 326.57 L268.20 325.90 L268.20 311.90 L268.29 311.23 L268.55 310.60 L268.96 310.06 L269.50 309.65 L270.13 309.39 L270.80 309.30 Z" fill="#fff" stroke="#000" stroke-width="1.44"/>
<circle cx="274.00" cy="318.60" r="2.70" fill="none" stroke="#000" stroke-width="1.92"/>
<circle cx="274.00" cy="318.60" r="0.90" fill="none" stroke="#000" stroke-width="0.96"/>
<path d="M268.40 318.60 L270.50 318.60" fill="none" stroke="#000" stroke-width="1.08"/>
<path d="M277.50 318.60 L279.80 318.60" fill="none" stroke="#000" stroke-width="1.08"/>
<path d="M269.50 312.00 L269.50 325.00" fill="none" stroke="#444" stroke-width="0.84"/>
<path d="M278.60 312.00 L278.60 325.00" fill="none" stroke="#444" stroke-width="0.84"/>
<path d="M273.60 353.60 L282.00 353.60 L283.80 356.20 L283.80 406.40 L282.00 409.00 L277.20 409.20" fill="none" stroke="#000" stroke-width="1.08"/>
<path d="M265.30 337.60 L282.00 337.60 L282.00 350.50 L265.30 350.50 Z" fill="#fff" stroke="#000" stroke-width="1.68"/>
<path d="M273.00 341.30 L282.00 341.30" fill="none" stroke="#000" stroke-width="1.08"/>
<path d="M275.00 345.50 L282.00 345.50" fill="none" stroke="#000" stroke-width="1.08"/>
<path d="M271.40 343.40 L273.20 341.60 L275.00 343.40 L273.20 345.20 Z" fill="none" stroke="#000" stroke-width="1.44"/>
<circle cx="270.60" cy="384.00" r="2.90" fill="none" stroke="#000" stroke-width="1.44"/>
<path d="M268.30 385.20 L272.80 382.80" fill="none" stroke="#000" stroke-width="1.20"/>
<path d="M275.60 414.20 L274.40 416.28 L272.00 416.28 L270.80 414.20 L272.00 412.12 L274.40 412.12 L275.60 414.20 Z" fill="none" stroke="#000" stroke-width="1.44"/>
<path d="M270.00 416.50 L276.00 411.50" fill="none" stroke="#000" stroke-width="1.20"/>
<path d="M276.00 421.00 L276.78 421.10 L277.50 421.40 L278.12 421.88 L278.60 422.50 L278.90 423.22 L279.00 424.00 L279.00 438.50 L278.90 439.28 L278.60 440.00 L278.12 440.62 L277.50 441.10 L276.78 441.40 L276.00 441.50 L271.40 441.50 L270.62 441.40 L269.90 441.10 L269.28 440.62 L268.80 440.00 L268.50 439.28 L268.40 438.50 L268.40 424.00 L268.50 423.22 L268.80 422.50 L269.28 421.88 L269.90 421.40 L270.62 421.10 L271.40 421.00 Z" fill="#fff" stroke="#000" stroke-width="1.44"/>
<path d="M275.30 423.60 L275.95 423.69 L276.55 423.93 L277.07 424.33 L277.47 424.85 L277.71 425.45 L277.80 426.10 L277.80 436.60 L277.71 437.25 L277.47 437.85 L277.07 438.37 L276.55 438.77 L275.95 439.01 L275.30 439.10 L272.10 439.10 L271.45 439.01 L270.85 438.77 L270.33 438.37 L269.93 437.85 L269.69 437.25 L269.60 436.60 L269.60 426.10 L269.69 425.45 L269.93 424.85 L270.33 424.33 L270.85 423.93 L271.45 423.69 L272.10 423.60 Z" fill="none" stroke="#333" stroke-width="0.84"/>
<circle cx="273.50" cy="431.50" r="2.90" fill="none" stroke="#000" stroke-width="2.28"/>
<path d="M271.50 431.50 L275.50 431.50" fill="none" stroke="#fff" stroke-width="0.84"/>
<path d="M273.50 429.50 L273.50 433.50" fill="none" stroke="#fff" stroke-width="0.84"/>
<path d="M267.60 486.00 L267.60 445.00 L267.60 445.00 L267.84 443.78 L268.54 442.74 L269.58 442.04 L270.80 441.80 L272.02 442.04 L273.06 442.74 L273.76 443.78 L274.00 445.00 L274.00 486.00" fill="none" stroke="#000" stroke-width="1.08"/>
<path d="M274.00 444.00 L274.00 484.00" fill="none" stroke="#000" stroke-width="1.44"/>
<path d="M280.20 508.50 L280.20 419.20 L280.20 419.20 L280.43 418.35 L281.05 417.73 L281.90 417.50 L282.75 417.73 L283.37 418.35 L283.60 419.20 L283.60 508.50 L283.60 508.50 L283.37 509.35 L282.75 509.97 L281.90 510.20 L281.05 509.97 L280.43 509.35 L280.20 508.50 Z" fill="none" stroke="#000" stroke-width="1.08"/>
<path d="M277.13 503.07 L276.40 504.19 L275.49 505.16 L274.41 505.94 L273.21 506.52 L271.93 506.88 L270.60 507.00 L269.27 506.88 L267.99 506.52 L266.79 505.94 L265.71 505.16 L264.80 504.19 L264.07 503.07" fill="none" stroke="#000" stroke-width="1.80"/>
<path d="M263.40 503.80 L264.20 502.20" fill="none" stroke="#000" stroke-width="1.56"/>
<path d="M277.80 503.80 L277.00 502.20" fill="none" stroke="#000" stroke-width="1.56"/>
<path d="M270.60 499.40 L270.60 509.00" fill="none" stroke="#000" stroke-width="2.04"/>
<path d="M268.00 502.20 L273.30 502.20" fill="none" stroke="#000" stroke-width="1.56"/>
<path d="M262.30 509.40 L279.40 509.40" fill="none" stroke="#000" stroke-width="1.08"/>
<path d="M279.20 496.50 L279.20 509.40" fill="none" stroke="#000" stroke-width="1.08"/>
<path d="M267.60 509.40 L267.60 517.50 L267.60 517.50 L267.81 518.53 L268.39 519.41 L269.27 519.99 L270.30 520.20 L271.33 519.99 L272.21 519.41 L272.79 518.53 L273.00 517.50 L273.00 509.40" fill="none" stroke="#000" stroke-width="1.20"/>
<path d="M264.90 524.50 L281.80 524.50 L281.80 537.90 L264.90 537.90 Z" fill="none" stroke="#000" stroke-width="1.08"/>
<path d="M264.90 524.60 L281.80 524.60" fill="none" stroke="#000" stroke-width="1.68"/>
<path d="M264.90 537.80 L281.80 537.80" fill="none" stroke="#000" stroke-width="1.68"/>
<path d="M271.00 529.00 L272.60 529.00 L272.60 529.00 L273.59 529.20 L274.44 529.76 L275.00 530.61 L275.20 531.60 L275.00 532.59 L274.44 533.44 L273.59 534.00 L272.60 534.20 L271.00 534.20 Z" fill="none" stroke="#000" stroke-width="1.20"/>
<path d="M263.60 394.99 L265.03 393.36 L266.83 392.15 L268.88 391.46 L271.05 391.32 L273.17 391.74 L275.11 392.70 L276.74 394.13 L277.95 395.93 L278.64 397.98 L278.78 400.15 L278.36 402.27 L277.40 404.21 L254.40 438.61 L252.97 440.24 L251.17 441.45 L249.12 442.14 L246.95 442.28 L244.83 441.86 L242.89 440.90 L241.26 439.47 L240.05 437.67 L239.36 435.62 L239.22 433.45 L239.64 431.33 L240.60 429.39 Z" fill="#fff" stroke="#000" stroke-width="1.08"/>
<path d="M277.50 405.50 L278.40 408.00 L277.20 409.20" fill="none" stroke="#000" stroke-width="1.08"/>
<path d="M278.73 485.66 L279.32 487.83 L279.33 490.07 L278.76 492.25 L277.65 494.20 L276.07 495.79 L274.14 496.93 L271.97 497.52 L269.73 497.53 L267.55 496.96 L265.60 495.85 L264.01 494.27 L262.87 492.34 L210.67 368.34 L210.08 366.17 L210.07 363.93 L210.64 361.75 L211.75 359.80 L213.33 358.21 L215.26 357.07 L217.43 356.48 L219.67 356.47 L221.85 357.04 L223.80 358.15 L225.39 359.73 L226.53 361.66 Z" fill="#fff" stroke="#000" stroke-width="1.08"/>
<path d="M233.15 399.56" fill="none" stroke="#000" stroke-width="0.12"/>
<path d="M224.66 401.56 L226.08 402.17 L227.36 402.44 L228.56 402.52 L229.71 402.48 L230.82 402.33 L231.88 402.10 L232.92 401.79 L233.93 401.41 L234.90 400.95 L235.85 400.43 L236.76 399.83 L237.64 399.14 L238.47 398.35 L239.25 397.43 L239.95 396.33 L240.51 394.89" fill="none" stroke="#000" stroke-width="1.08"/>
<path d="M229.80 402.17 L239.77 425.85 L242.09 425.96 L244.97 425.07 L247.03 423.77 L248.16 422.32 L237.41 396.79" fill="none" stroke="#000" stroke-width="1.08"/>
<circle cx="247.50" cy="434.00" r="3.40" fill="none" stroke="#000" stroke-width="1.08"/>
<path d="M252.59 423.57 L253.78 424.24 L254.88 425.05 L255.88 425.98 L256.76 427.02 L257.52 428.16 L258.14 429.37 L258.61 430.66 L258.92 431.99" fill="none" stroke="#000" stroke-width="0.96"/>
<text x="0" y="0" font-size="7px" font-family="Liberation Sans, sans-serif" font-weight="bold" stroke="#000" stroke-width="0.9" textLength="26" lengthAdjust="spacingAndGlyphs" transform="translate(251.42 449.16) rotate(67.17)">MAX L400S</text>
<path d="M278.55 362.15 L279.53 364.40 L279.90 366.83 L279.62 369.27 L278.72 371.55 L277.27 373.52 L275.35 375.05 L273.10 376.03 L270.67 376.40 L268.23 376.12 L265.95 375.22 L263.98 373.77 L262.45 371.85 L237.35 330.15 L236.37 327.90 L236.00 325.47 L236.28 323.03 L237.18 320.75 L238.63 318.78 L240.55 317.25 L242.80 316.27 L245.23 315.90 L247.67 316.18 L249.95 317.08 L251.92 318.53 L253.45 320.45 Z" fill="#fff" stroke="#000" stroke-width="1.08"/>
<path d="M257.22 327.38 L256.80 329.05 L256.15 330.64 L255.28 332.11 L254.20 333.45 L252.95 334.63 L251.54 335.61 L250.01 336.38 L248.38 336.92 L246.70 337.23 L244.98 337.29" fill="none" stroke="#000" stroke-width="1.08"/>
<path d="M258.60 328.11 L258.10 329.87 L257.36 331.55 L256.40 333.12 L255.24 334.54 L253.90 335.79 L252.39 336.85 L250.76 337.69 L249.03 338.30 L247.23 338.68 L245.40 338.80" fill="none" stroke="#000" stroke-width="1.08"/>
<circle cx="270.50" cy="367.00" r="4.40" fill="#fff" stroke="#000" stroke-width="1.80"/>
<path d="M267.90 367.00 L273.10 367.00" fill="none" stroke="#000" stroke-width="0.96"/>
<path d="M270.50 364.40 L270.50 369.60" fill="none" stroke="#000" stroke-width="0.96"/>
<circle cx="270.50" cy="399.60" r="4.40" fill="#fff" stroke="#000" stroke-width="1.80"/>
<path d="M267.90 399.60 L273.10 399.60" fill="none" stroke="#000" stroke-width="0.96"/>
<path d="M270.50 397.00 L270.50 402.20" fill="none" stroke="#000" stroke-width="0.96"/>
<circle cx="270.80" cy="489.00" r="4.00" fill="#fff" stroke="#000" stroke-width="1.80"/>
<path d="M268.20 489.00 L273.40 489.00" fill="none" stroke="#000" stroke-width="0.96"/>
<path d="M270.80 486.40 L270.80 491.60" fill="none" stroke="#000" stroke-width="0.96"/>
<path d="M245.36 310.82 L241.20 308.04 L195.53 376.14 L199.68 378.92 Z" fill="#fff" stroke="none" stroke-width="0.12"/>
<path d="M245.36 310.82 L174.34 416.71 L173.99 420.09 L175.43 423.34 L179.88 426.57 L183.76 427.61 L187.23 426.56 L258.81 319.85 L263.19 312.79 L262.03 308.76 L263.37 306.05 L263.71 304.11 L262.72 301.63 L259.94 302.54 L257.44 303.76 L255.06 304.08 L252.89 303.35 L250.98 302.79 L249.87 303.73 L245.36 310.82 Z" fill="#fff" stroke="#000" stroke-width="1.08"/>
<path d="M249.42 305.12 L262.54 313.92" fill="none" stroke="#000" stroke-width="1.32"/>
<path d="M247.86 307.45 L260.98 316.25" fill="none" stroke="#000" stroke-width="1.08"/>
<path d="M246.41 309.60 L259.54 318.41" fill="none" stroke="#000" stroke-width="1.08"/>
<path d="M239.16 325.45 L238.93 325.92 L238.82 326.43 L238.86 326.95 L239.02 327.44 L239.31 327.88 L239.71 328.22 L244.86 331.68 L245.32 331.91 L245.83 332.01 L246.36 331.98 L246.85 331.81 L247.29 331.52 L247.63 331.13 L251.64 325.15 L251.87 324.68 L251.98 324.17 L251.94 323.65 L251.78 323.16 L251.49 322.72 L251.09 322.38 L245.94 318.92 L245.48 318.69 L244.97 318.59 L244.44 318.62 L243.95 318.79 L243.51 319.08 L243.17 319.47 Z" fill="none" stroke="#000" stroke-width="1.08"/>
<circle cx="245.40" cy="325.30" r="3.00" fill="none" stroke="#000" stroke-width="1.20"/>
<path d="M211.70 366.03 L211.51 366.41 L211.43 366.82 L211.46 367.23 L211.59 367.63 L211.82 367.98 L212.14 368.25 L218.12 372.26 L218.49 372.45 L218.90 372.53 L219.32 372.50 L219.71 372.37 L220.06 372.14 L220.34 371.83 L242.06 339.44 L242.25 339.06 L242.33 338.65 L242.30 338.23 L242.17 337.84 L241.94 337.49 L241.62 337.22 L235.64 333.21 L235.27 333.02 L234.86 332.94 L234.44 332.96 L234.05 333.10 L233.70 333.33 L233.42 333.64 Z" fill="none" stroke="#000" stroke-width="1.08"/>
<circle cx="234.76" cy="341.16" r="3.00" fill="none" stroke="#000" stroke-width="1.20"/>
<circle cx="229.36" cy="349.22" r="2.20" fill="none" stroke="#000" stroke-width="1.20"/>
<circle cx="218.72" cy="365.08" r="3.40" fill="none" stroke="#000" stroke-width="1.20"/>
<circle cx="205.40" cy="385.29" r="2.10" fill="none" stroke="#000" stroke-width="1.20"/>
<path d="M181.79 420.50 L182.55 420.76 L183.47 420.64 L184.45 420.16 L185.42 419.36 L186.26 418.32 L186.90 417.15 L187.27 415.96 L187.34 414.86 L187.10 413.97 L186.58 413.36 L185.82 413.11 L184.90 413.22 L183.91 413.71 L182.95 414.50 L182.11 415.54 L181.47 416.71 L181.09 417.90 L181.02 419.00 L181.26 419.90 Z" fill="none" stroke="#000" stroke-width="1.20"/>
<path d="M270.60 280.00 L270.60 545.50" fill="none" stroke="#000" stroke-width="0.90" stroke-dasharray="3.4 1.6"/>
<path d="M273.70 280.00 L273.70 545.50" fill="none" stroke="#000" stroke-width="0.90" stroke-dasharray="3.4 1.6"/>
<path d="M329.50 288.70 L313.20 288.70 L311.50 290.20 L311.30 292.20 L309.90 293.20 L309.90 541.00 L309.90 541.00 L310.02 541.77 L310.38 542.47 L310.93 543.02 L311.63 543.38 L312.40 543.50 L331.10 543.50 L331.87 543.38 L332.57 543.02 L333.12 542.47 L333.48 541.77 L333.60 541.00 L333.60 292.70 L330.50 290.70 Z" fill="#fff" stroke="#000" stroke-width="1.20"/>
<path d="M309.90 293.00 L309.90 541.00" fill="none" stroke="#000" stroke-width="1.56"/>
<path d="M333.40 292.80 L330.90 292.80 L330.90 301.60 L333.40 301.60 Z" fill="#888" stroke="#666" stroke-width="0.60"/>
<path d="M333.50 292.40 L330.00 290.60" fill="none" stroke="#000" stroke-width="2.40"/>
<path d="M330.70 291.50 L320.50 291.50 L320.50 308.60 L330.70 308.60 Z" fill="none" stroke="#000" stroke-width="1.08"/>
<path d="M330.90 308.70 L319.20 308.70" fill="none" stroke="#000" stroke-width="1.92"/>
<path d="M328.50 298.00 L326.20 295.70 L323.90 298.00 L326.20 300.30 Z" fill="none" stroke="#000" stroke-width="1.32"/>
<path d="M328.70 304.30 L326.40 302.00 L324.10 304.30 L326.40 306.60 Z" fill="none" stroke="#000" stroke-width="1.32"/>
<path d="M328.50 290.00 L325.50 289.60" fill="none" stroke="#000" stroke-width="2.16"/>
<path d="M322.00 290.50 L318.70 292.60" fill="none" stroke="#000" stroke-width="2.16"/>
<path d="M320.00 294.80 L318.50 294.00" fill="none" stroke="#000" stroke-width="1.44"/>
<path d="M318.10 309.30 L317.43 309.39 L316.80 309.65 L316.26 310.06 L315.85 310.60 L315.59 311.23 L315.50 311.90 L315.50 325.90 L315.59 326.57 L315.85 327.20 L316.26 327.74 L316.80 328.15 L317.43 328.41 L318.10 328.50 L324.70 328.50 L325.37 328.41 L326.00 328.15 L326.54 327.74 L326.95 327.20 L327.21 326.57 L327.30 325.90 L327.30 311.90 L327.21 311.23 L326.95 310.60 L326.54 310.06 L326.00 309.65 L325.37 309.39 L324.70 309.30 Z" fill="#fff" stroke="#000" stroke-width="1.44"/>
<circle cx="321.50" cy="318.60" r="2.70" fill="none" stroke="#000" stroke-width="1.92"/>
<circle cx="321.50" cy="318.60" r="0.90" fill="none" stroke="#000" stroke-width="0.96"/>
<path d="M327.10 318.60 L325.00 318.60" fill="none" stroke="#000" stroke-width="1.08"/>
<path d="M318.00 318.60 L315.70 318.60" fill="none" stroke="#000" stroke-width="1.08"/>
<path d="M326.00 312.00 L326.00 325.00" fill="none" stroke="#444" stroke-width="0.84"/>
<path d="M316.90 312.00 L316.90 325.00" fill="none" stroke="#444" stroke-width="0.84"/>
<path d="M321.90 353.60 L313.50 353.60 L311.70 356.20 L311.70 406.40 L313.50 409.00 L318.30 409.20" fill="none" stroke="#000" stroke-width="1.08"/>
<path d="M330.20 337.60 L313.50 337.60 L313.50 350.50 L330.20 350.50 Z" fill="#fff" stroke="#000" stroke-width="1.68"/>
<path d="M322.50 341.30 L313.50 341.30" fill="none" stroke="#000" stroke-width="1.08"/>
<path d="M320.50 345.50 L313.50 345.50" fill="none" stroke="#000" stroke-width="1.08"/>
<path d="M324.10 343.40 L322.30 341.60 L320.50 343.40 L322.30 345.20 Z" fill="none" stroke="#000" stroke-width="1.44"/>
<circle cx="324.90" cy="384.00" r="2.90" fill="none" stroke="#000" stroke-width="1.44"/>
<path d="M327.20 385.20 L322.70 382.80" fill="none" stroke="#000" stroke-width="1.20"/>
<path d="M319.90 414.20 L321.10 416.28 L323.50 416.28 L324.70 414.20 L323.50 412.12 L321.10 412.12 L319.90 414.20 Z" fill="none" stroke="#000" stroke-width="1.44"/>
<path d="M325.50 416.50 L319.50 411.50" fill="none" stroke="#000" stroke-width="1.20"/>
<path d="M319.50 421.00 L318.72 421.10 L318.00 421.40 L317.38 421.88 L316.90 422.50 L316.60 423.22 L316.50 424.00 L316.50 438.50 L316.60 439.28 L316.90 440.00 L317.38 440.62 L318.00 441.10 L318.72 441.40 L319.50 441.50 L324.10 441.50 L324.88 441.40 L325.60 441.10 L326.22 440.62 L326.70 440.00 L327.00 439.28 L327.10 438.50 L327.10 424.00 L327.00 423.22 L326.70 422.50 L326.22 421.88 L325.60 421.40 L324.88 421.10 L324.10 421.00 Z" fill="#fff" stroke="#000" stroke-width="1.44"/>
<path d="M320.20 423.60 L319.55 423.69 L318.95 423.93 L318.43 424.33 L318.03 424.85 L317.79 425.45 L317.70 426.10 L317.70 436.60 L317.79 437.25 L318.03 437.85 L318.43 438.37 L318.95 438.77 L319.55 439.01 L320.20 439.10 L323.40 439.10 L324.05 439.01 L324.65 438.77 L325.17 438.37 L325.57 437.85 L325.81 437.25 L325.90 436.60 L325.90 426.10 L325.81 425.45 L325.57 424.85 L325.17 424.33 L324.65 423.93 L324.05 423.69 L323.40 423.60 Z" fill="none" stroke="#333" stroke-width="0.84"/>
<circle cx="322.00" cy="431.50" r="2.90" fill="none" stroke="#000" stroke-width="2.28"/>
<path d="M324.00 431.50 L320.00 431.50" fill="none" stroke="#fff" stroke-width="0.84"/>
<path d="M322.00 429.50 L322.00 433.50" fill="none" stroke="#fff" stroke-width="0.84"/>
<path d="M327.90 486.00 L327.90 445.00 L327.90 445.00 L327.66 443.78 L326.96 442.74 L325.92 442.04 L324.70 441.80 L323.48 442.04 L322.44 442.74 L321.74 443.78 L321.50 445.00 L321.50 486.00" fill="none" stroke="#000" stroke-width="1.08"/>
<path d="M321.50 444.00 L321.50 484.00" fill="none" stroke="#000" stroke-width="1.44"/>
<path d="M315.30 508.50 L315.30 419.20 L315.30 419.20 L315.07 418.35 L314.45 417.73 L313.60 417.50 L312.75 417.73 L312.13 418.35 L311.90 419.20 L311.90 508.50 L311.90 508.50 L312.13 509.35 L312.75 509.97 L313.60 510.20 L314.45 509.97 L315.07 509.35 L315.30 508.50 Z" fill="none" stroke="#000" stroke-width="1.08"/>
<path d="M318.37 503.07 L319.10 504.19 L320.01 505.16 L321.09 505.94 L322.29 506.52 L323.57 506.88 L324.90 507.00 L326.23 506.88 L327.51 506.52 L328.71 505.94 L329.79 505.16 L330.70 504.19 L331.43 503.07" fill="none" stroke="#000" stroke-width="1.80"/>
<path d="M332.10 503.80 L331.30 502.20" fill="none" stroke="#000" stroke-width="1.56"/>
<path d="M317.70 503.80 L318.50 502.20" fill="none" stroke="#000" stroke-width="1.56"/>
<path d="M324.90 499.40 L324.90 509.00" fill="none" stroke="#000" stroke-width="2.04"/>
<path d="M327.50 502.20 L322.20 502.20" fill="none" stroke="#000" stroke-width="1.56"/>
<path d="M333.20 509.40 L316.10 509.40" fill="none" stroke="#000" stroke-width="1.08"/>
<path d="M316.30 496.50 L316.30 509.40" fill="none" stroke="#000" stroke-width="1.08"/>
<path d="M327.90 509.40 L327.90 517.50 L327.90 517.50 L327.69 518.53 L327.11 519.41 L326.23 519.99 L325.20 520.20 L324.17 519.99 L323.29 519.41 L322.71 518.53 L322.50 517.50 L322.50 509.40" fill="none" stroke="#000" stroke-width="1.20"/>
<path d="M330.60 524.50 L313.70 524.50 L313.70 537.90 L330.60 537.90 Z" fill="none" stroke="#000" stroke-width="1.08"/>
<path d="M330.60 524.60 L313.70 524.60" fill="none" stroke="#000" stroke-width="1.68"/>
<path d="M330.60 537.80 L313.70 537.80" fill="none" stroke="#000" stroke-width="1.68"/>
<path d="M324.50 529.00 L322.90 529.00 L322.90 529.00 L321.91 529.20 L321.06 529.76 L320.50 530.61 L320.30 531.60 L320.50 532.59 L321.06 533.44 L321.91 534.00 L322.90 534.20 L324.50 534.20 Z" fill="none" stroke="#000" stroke-width="1.20"/>
<path d="M331.90 394.99 L330.47 393.36 L328.67 392.15 L326.62 391.46 L324.45 391.32 L322.33 391.74 L320.39 392.70 L318.76 394.13 L317.55 395.93 L316.86 397.98 L316.72 400.15 L317.14 402.27 L318.10 404.21 L341.10 438.61 L342.53 440.24 L344.33 441.45 L346.38 442.14 L348.55 442.28 L350.67 441.86 L352.61 440.90 L354.24 439.47 L355.45 437.67 L356.14 435.62 L356.28 433.45 L355.86 431.33 L354.90 429.39 Z" fill="#fff" stroke="#000" stroke-width="1.08"/>
<path d="M318.00 405.50 L317.10 408.00 L318.30 409.20" fill="none" stroke="#000" stroke-width="1.08"/>
<path d="M316.77 485.66 L316.18 487.83 L316.17 490.07 L316.74 492.25 L317.85 494.20 L319.43 495.79 L321.36 496.93 L323.53 497.52 L325.77 497.53 L327.95 496.96 L329.90 495.85 L331.49 494.27 L332.63 492.34 L384.83 368.34 L385.42 366.17 L385.43 363.93 L384.86 361.75 L383.75 359.80 L382.17 358.21 L380.24 357.07 L378.07 356.48 L375.83 356.47 L373.65 357.04 L371.70 358.15 L370.11 359.73 L368.97 361.66 Z" fill="#fff" stroke="#000" stroke-width="1.08"/>
<path d="M362.35 399.56" fill="none" stroke="#000" stroke-width="0.12"/>
<path d="M370.84 401.56 L369.42 402.17 L368.14 402.44 L366.94 402.52 L365.79 402.48 L364.68 402.33 L363.62 402.10 L362.58 401.79 L361.57 401.41 L360.60 400.95 L359.65 400.43 L358.74 399.83 L357.86 399.14 L357.03 398.35 L356.25 397.43 L355.55 396.33 L354.99 394.89" fill="none" stroke="#000" stroke-width="1.08"/>
<path d="M365.70 402.17 L355.73 425.85 L353.41 425.96 L350.53 425.07 L348.47 423.77 L347.34 422.32 L358.09 396.79" fill="none" stroke="#000" stroke-width="1.08"/>
<circle cx="348.00" cy="434.00" r="3.40" fill="none" stroke="#000" stroke-width="1.08"/>
<path d="M342.91 423.57 L341.72 424.24 L340.62 425.05 L339.62 425.98 L338.74 427.02 L337.98 428.16 L337.36 429.37 L336.89 430.66 L336.58 431.99" fill="none" stroke="#000" stroke-width="0.96"/>
<text x="0" y="0" font-size="7px" font-family="Liberation Sans, sans-serif" font-weight="bold" stroke="#000" stroke-width="0.9" textLength="26" lengthAdjust="spacingAndGlyphs" transform="translate(339.47 447.22) rotate(112.83)">MAX L400S</text>
<path d="M316.95 362.15 L315.97 364.40 L315.60 366.83 L315.88 369.27 L316.78 371.55 L318.23 373.52 L320.15 375.05 L322.40 376.03 L324.83 376.40 L327.27 376.12 L329.55 375.22 L331.52 373.77 L333.05 371.85 L358.15 330.15 L359.13 327.90 L359.50 325.47 L359.22 323.03 L358.32 320.75 L356.87 318.78 L354.95 317.25 L352.70 316.27 L350.27 315.90 L347.83 316.18 L345.55 317.08 L343.58 318.53 L342.05 320.45 Z" fill="#fff" stroke="#000" stroke-width="1.08"/>
<path d="M338.28 327.38 L338.70 329.05 L339.35 330.64 L340.22 332.11 L341.30 333.45 L342.55 334.63 L343.96 335.61 L345.49 336.38 L347.12 336.92 L348.80 337.23 L350.52 337.29" fill="none" stroke="#000" stroke-width="1.08"/>
<path d="M336.90 328.11 L337.40 329.87 L338.14 331.55 L339.10 333.12 L340.26 334.54 L341.60 335.79 L343.11 336.85 L344.74 337.69 L346.47 338.30 L348.27 338.68 L350.10 338.80" fill="none" stroke="#000" stroke-width="1.08"/>
<circle cx="325.00" cy="367.00" r="4.40" fill="#fff" stroke="#000" stroke-width="1.80"/>
<path d="M327.60 367.00 L322.40 367.00" fill="none" stroke="#000" stroke-width="0.96"/>
<path d="M325.00 364.40 L325.00 369.60" fill="none" stroke="#000" stroke-width="0.96"/>
<circle cx="325.00" cy="399.60" r="4.40" fill="#fff" stroke="#000" stroke-width="1.80"/>
<path d="M327.60 399.60 L322.40 399.60" fill="none" stroke="#000" stroke-width="0.96"/>
<path d="M325.00 397.00 L325.00 402.20" fill="none" stroke="#000" stroke-width="0.96"/>
<circle cx="324.70" cy="489.00" r="4.00" fill="#fff" stroke="#000" stroke-width="1.80"/>
<path d="M327.30 489.00 L322.10 489.00" fill="none" stroke="#000" stroke-width="0.96"/>
<path d="M324.70 486.40 L324.70 491.60" fill="none" stroke="#000" stroke-width="0.96"/>
<path d="M350.14 310.82 L354.30 308.04 L399.97 376.14 L395.82 378.92 Z" fill="#fff" stroke="none" stroke-width="0.12"/>
<path d="M350.14 310.82 L421.16 416.71 L421.51 420.09 L420.07 423.34 L415.62 426.57 L411.74 427.61 L408.27 426.56 L336.69 319.85 L332.31 312.79 L333.47 308.76 L332.13 306.05 L331.79 304.11 L332.78 301.63 L335.56 302.54 L338.06 303.76 L340.44 304.08 L342.61 303.35 L344.52 302.79 L345.63 303.73 L350.14 310.82 Z" fill="#fff" stroke="#000" stroke-width="1.08"/>
<path d="M346.08 305.12 L332.96 313.92" fill="none" stroke="#000" stroke-width="1.32"/>
<path d="M347.64 307.45 L334.52 316.25" fill="none" stroke="#000" stroke-width="1.08"/>
<path d="M349.09 309.60 L335.96 318.41" fill="none" stroke="#000" stroke-width="1.08"/>
<path d="M356.34 325.45 L356.57 325.92 L356.68 326.43 L356.64 326.95 L356.48 327.44 L356.19 327.88 L355.79 328.22 L350.64 331.68 L350.18 331.91 L349.67 332.01 L349.14 331.98 L348.65 331.81 L348.21 331.52 L347.87 331.13 L343.86 325.15 L343.63 324.68 L343.52 324.17 L343.56 323.65 L343.72 323.16 L344.01 322.72 L344.41 322.38 L349.56 318.92 L350.02 318.69 L350.53 318.59 L351.06 318.62 L351.55 318.79 L351.99 319.08 L352.33 319.47 Z" fill="none" stroke="#000" stroke-width="1.08"/>
<circle cx="350.10" cy="325.30" r="3.00" fill="none" stroke="#000" stroke-width="1.20"/>
<path d="M383.80 366.03 L383.99 366.41 L384.07 366.82 L384.04 367.23 L383.91 367.63 L383.68 367.98 L383.36 368.25 L377.38 372.26 L377.01 372.45 L376.60 372.53 L376.18 372.50 L375.79 372.37 L375.44 372.14 L375.16 371.83 L353.44 339.44 L353.25 339.06 L353.17 338.65 L353.20 338.23 L353.33 337.84 L353.56 337.49 L353.88 337.22 L359.86 333.21 L360.23 333.02 L360.64 332.94 L361.06 332.96 L361.45 333.10 L361.80 333.33 L362.08 333.64 Z" fill="none" stroke="#000" stroke-width="1.08"/>
<circle cx="360.74" cy="341.16" r="3.00" fill="none" stroke="#000" stroke-width="1.20"/>
<circle cx="366.14" cy="349.22" r="2.20" fill="none" stroke="#000" stroke-width="1.20"/>
<circle cx="376.78" cy="365.08" r="3.40" fill="none" stroke="#000" stroke-width="1.20"/>
<circle cx="390.10" cy="385.29" r="2.10" fill="none" stroke="#000" stroke-width="1.20"/>
<path d="M413.71 420.50 L412.95 420.76 L412.03 420.64 L411.05 420.16 L410.08 419.36 L409.24 418.32 L408.60 417.15 L408.23 415.96 L408.16 414.86 L408.40 413.97 L408.92 413.36 L409.68 413.11 L410.60 413.22 L411.59 413.71 L412.55 414.50 L413.39 415.54 L414.03 416.71 L414.41 417.90 L414.48 419.00 L414.24 419.90 Z" fill="none" stroke="#000" stroke-width="1.20"/>
<path d="M324.90 280.00 L324.90 545.50" fill="none" stroke="#000" stroke-width="0.90" stroke-dasharray="3.4 1.6"/>
<path d="M321.80 280.00 L321.80 545.50" fill="none" stroke="#000" stroke-width="0.90" stroke-dasharray="3.4 1.6"/>
<text y="409.00" font-size="11.40px" font-family="Liberation Mono, Noto Sans CJK SC, monospace" font-weight="bold" stroke="#000" stroke-width="0.72" transform="rotate(-54.50 169.60 409.00)"><tspan x="169.60" textLength="38.00" lengthAdjust="spacingAndGlyphs">UP-YZL10SE-R</tspan> <tspan x="211.00" dy="-0.1" stroke-width="0.4" font-size="9.80px" textLength="9.60" lengthAdjust="spacingAndGlyphs">1个</tspan></text>
<text y="366.40" font-size="11.40px" font-family="Liberation Mono, Noto Sans CJK SC, monospace" font-weight="bold" stroke="#000" stroke-width="0.72" transform="rotate(55.50 396.00 366.40)"><tspan x="396.00" textLength="39.50" lengthAdjust="spacingAndGlyphs">UP-YZL10SE-L</tspan> <tspan x="438.90" dy="-0.1" stroke-width="0.4" font-size="9.80px" textLength="9.60" lengthAdjust="spacingAndGlyphs">1个</tspan></text>
</svg></body></html>
